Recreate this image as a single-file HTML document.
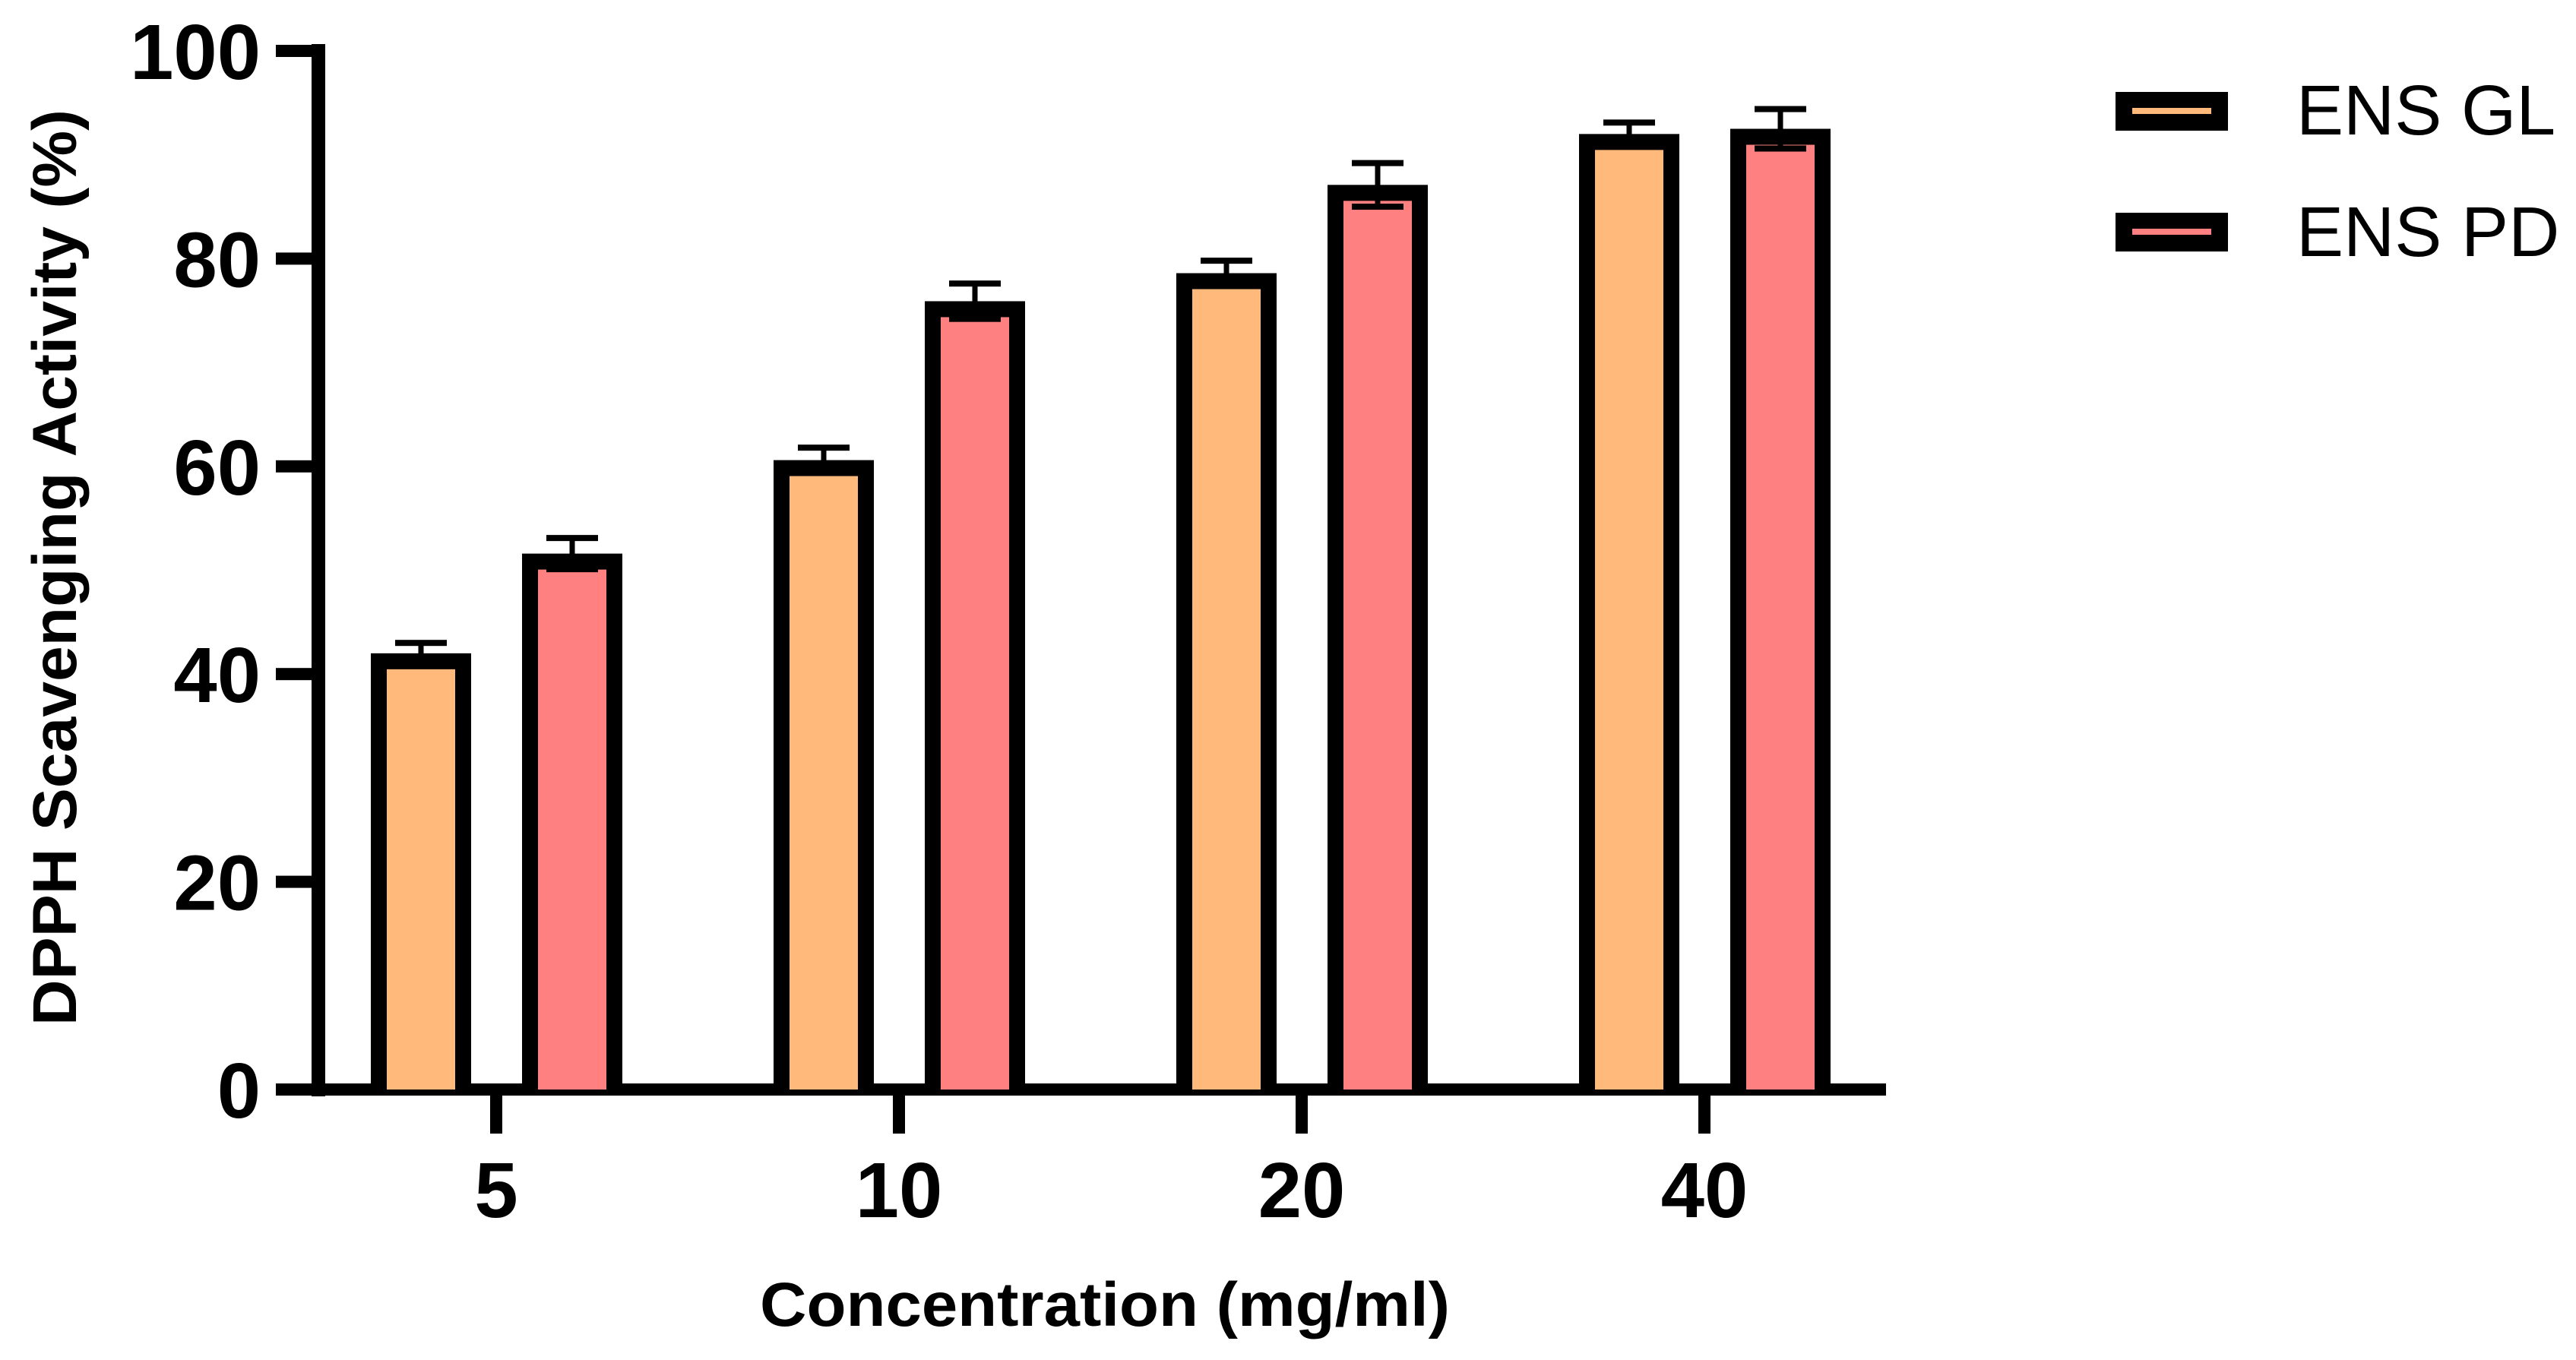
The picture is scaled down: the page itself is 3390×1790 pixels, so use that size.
<!DOCTYPE html>
<html><head><meta charset="utf-8"><style>
html,body{margin:0;padding:0;background:#fff;}
svg{display:block;}
text{font-family:"Liberation Sans",Arial,sans-serif;}
</style></head><body>
<svg id="chart" width="3390" height="1790" viewBox="0 0 3390 1790" xmlns="http://www.w3.org/2000/svg">
<g id="axes"></g>
<g id="bars"></g>
<g id="legend">
  <g>
    <rect x="2784" y="121" width="148" height="51" fill="#000"/>
    <rect x="2806" y="142" width="104" height="8" fill="#FFB97A"/>
    <text x="3022" y="177" font-size="93" fill="#000">ENS GL</text>
  </g>
  <g>
    <rect x="2784" y="280" width="148" height="51" fill="#000"/>
    <rect x="2806" y="301" width="104" height="8" fill="#FF8080"/>
    <text x="3022" y="337" font-size="93" fill="#000">ENS PD</text>
  </g>
</g>
<text transform="translate(100,747) rotate(-90)" text-anchor="middle" font-size="82" font-weight="bold" textLength="1206" lengthAdjust="spacingAndGlyphs">DPPH Scavenging Activity (%)</text>
<text x="1454" y="1745" text-anchor="middle" font-size="82" font-weight="bold" textLength="908" lengthAdjust="spacingAndGlyphs">Concentration (mg/ml)</text>
</svg>
<script>
const categories = ["5", "10", "20", "40"];
const seriesNames = ["ENS GL", "ENS PD"];
const glValues = [42.0, 60.6, 78.6, 92.0];
const glErrors = [1.0, 1.2, 1.2, 1.1];
const pdValues = [51.6, 75.9, 87.1, 92.5];
const pdErrors = [1.5, 1.7, 2.1, 1.9];
const yTicks = [0, 20, 40, 60, 80, 100];

const NS = "http://www.w3.org/2000/svg";
const Y0 = 1434, Y100 = 67;
function yScale(v){ return Y0 + (Y100 - Y0) * v / 100; }
const firstTick = 653, tickStep = 530;
function xScale(i){ return firstTick + i * tickStep; }
const barOffset = [-99, 100];
const barW = 132, stroke = 21;
const colors = ["#FFB97A", "#FF8080"];

function mk(tag, attrs, parent){
  const e = document.createElementNS(NS, tag);
  for (const k in attrs) e.setAttribute(k, attrs[k]);
  parent.appendChild(e);
  return e;
}
const axes = document.getElementById("axes");
const bars = document.getElementById("bars");

let yl = mk("rect", {x:410, y:Y100-9, width:18, height:Y0-Y100+18, fill:"#000"}, axes);


yTicks.forEach(t => {
  const y = yScale(t);
  const tk = mk("rect", {x:363, y:y-8, width:60, height:16, fill:"#000"}, axes);
  
  
  const lb = mk("text", {x:343, y:y+37, "text-anchor":"end", "font-size":103, "font-weight":"bold"}, axes);
  lb.textContent = t;
  
  
});
let xl = mk("rect", {x:410, y:Y0-8, width:2072, height:16, fill:"#000"}, axes);


categories.forEach((c, i) => {
  const x = xScale(i);
  const tk = mk("rect", {x:x-8, y:Y0, width:16, height:58, fill:"#000"}, axes);
  
  
  const lb = mk("text", {x:x, y:1602, "text-anchor":"middle", "font-size":103, "font-weight":"bold"}, axes);
  lb.textContent = c;
  
  
});

const allVals = [glValues, pdValues];
const allErrs = [glErrors, pdErrors];
allVals.forEach((vals, s) => {
  vals.forEach((v, i) => {
    const cx = xScale(i) + barOffset[s];
    const top = yScale(v);
    const g = mk("g", {}, bars);
    
    
    mk("rect", {x:cx-barW/2, y:top, width:barW, height:Y0-top, fill:"#000"}, g);
    mk("rect", {x:cx-barW/2+stroke, y:top+stroke, width:barW-2*stroke, height:Math.max(0,Y0-top-stroke), fill:colors[s]}, g);
    const e = allErrs[s][i];
    const yt = yScale(v + e), yb = yScale(v - e);
    const eg = mk("g", {fill:"#000"}, bars);
    
    
    mk("rect", {x:cx-3.5, y:yt, width:7, height:yb-yt}, eg);
    mk("rect", {x:cx-34, y:yt-4, width:68, height:8}, eg);
    mk("rect", {x:cx-34, y:yb-4, width:68, height:8}, eg);
  });
});
</script>
</body></html>
